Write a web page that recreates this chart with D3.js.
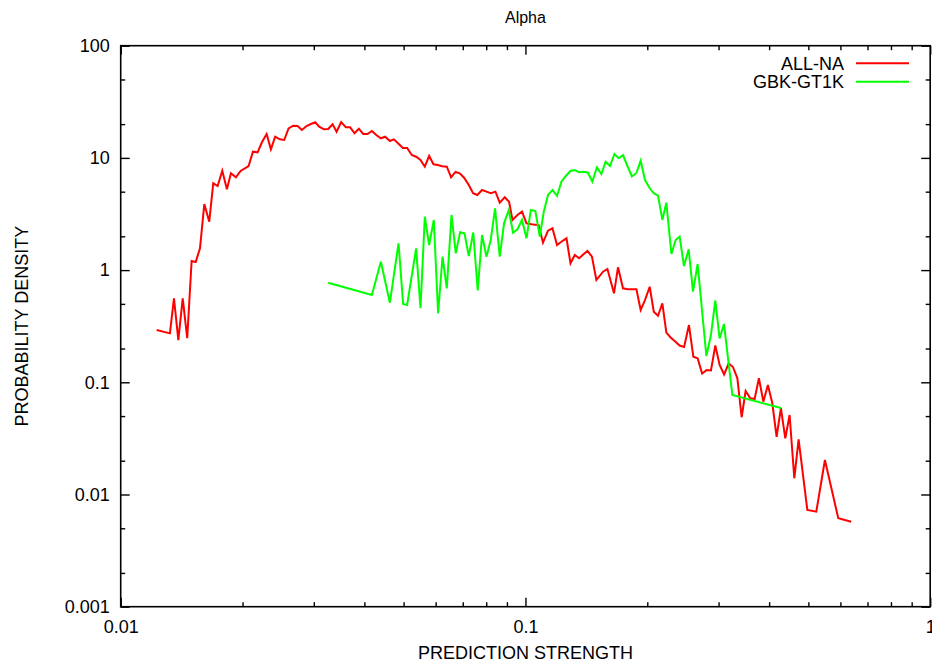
<!DOCTYPE html>
<html>
<head>
<meta charset="utf-8">
<script src="https://cdn.jsdelivr.net/npm/d3@7"></script>
<style>
  body { margin: 0; background: #fff; }
  text { font-family: "Liberation Sans", Arial, Helvetica, sans-serif; fill: #000; }
</style>
</head>
<body>
<script>
// chart data
var chartTitle = "Alpha";
var seriesNames = ["ALL-NA", "GBK-GT1K"];

var allnaStrength = [0.01227, 0.01323, 0.01354, 0.01388, 0.01423, 0.01460, 0.01497, 0.01532, 0.01570, 0.01609,
  0.01655, 0.01693, 0.01736, 0.01782, 0.01830, 0.01872, 0.01926, 0.01978, 0.02070, 0.02122,
  0.02179, 0.02233, 0.02294, 0.02350, 0.02408, 0.02473, 0.02535, 0.02599, 0.02668, 0.02735,
  0.02803, 0.02879, 0.02951, 0.03024, 0.03093, 0.03177, 0.03256, 0.03338, 0.03415, 0.03505,
  0.03600, 0.03689, 0.03782, 0.03876, 0.03972, 0.04073, 0.04174, 0.04287, 0.04393, 0.04502,
  0.04624, 0.04730, 0.04858, 0.04978, 0.05101, 0.05239, 0.05381, 0.05504, 0.05641, 0.05781,
  0.05927, 0.06074, 0.06224, 0.06393, 0.06551, 0.06717, 0.06883, 0.07052, 0.07244, 0.07423,
  0.07603, 0.07812, 0.08010, 0.08208, 0.08431, 0.08640, 0.08890, 0.09110, 0.09288, 0.09556,
  0.09806, 0.1006, 0.1035, 0.1057, 0.1078, 0.1105, 0.1137, 0.1166, 0.1197, 0.1229,
  0.1263, 0.1292, 0.1324, 0.1357, 0.1389, 0.1423, 0.1460, 0.1497, 0.1555, 0.1594,
  0.1655, 0.1693, 0.1742, 0.1789, 0.1833, 0.1880, 0.1926, 0.1974, 0.2028, 0.2075,
  0.2126, 0.2179, 0.2229, 0.2284, 0.2344, 0.2404, 0.2466, 0.2535, 0.2599, 0.2663,
  0.2732, 0.2804, 0.2873, 0.2945, 0.3018, 0.3096, 0.3177, 0.3256, 0.3339, 0.3421,
  0.3499, 0.3594, 0.3683, 0.3774, 0.3870, 0.3972, 0.4073, 0.4174, 0.4277, 0.4385,
  0.4494, 0.4616, 0.4730, 0.4971, 0.5231, 0.5494, 0.5928, 0.6381];

var allnaDensity = [0.292, 0.273, 0.561, 0.238, 0.561, 0.247, 1.205, 1.181, 1.564, 3.88,
  2.70, 5.94, 5.62, 7.69, 5.25, 7.29, 6.72, 7.64, 8.47, 11.36,
  11.22, 13.77, 16.33, 11.93, 15.45, 14.64, 14.44, 18.35, 19.36, 19.24,
  17.73, 19.24, 20.05, 20.76, 18.97, 17.99, 18.10, 19.93, 17.12, 20.89,
  18.74, 18.74, 16.57, 18.2, 16.33, 16.33, 17.37, 15.90, 14.95, 15.45,
  14.15, 14.64, 13.39, 12.25, 12.25, 10.61, 10.19, 9.58, 8.35, 10.40,
  8.77, 8.65, 8.42, 8.35, 6.72, 7.49, 7.29, 6.66, 5.73, 4.84,
  4.67, 5.18, 5.00, 4.84, 5.00, 3.99, 4.46, 4.07, 2.80, 3.10,
  3.32, 2.61, 2.56, 2.54, 2.52, 1.755, 2.245, 2.358, 1.674, 1.799,
  1.920, 1.150, 1.363, 1.274, 1.377, 1.480, 1.316, 0.816, 0.968, 1.023,
  0.621, 1.059, 0.688, 0.674, 0.674, 0.674, 0.441, 0.541, 0.711, 0.426,
  0.392, 0.506, 0.277, 0.2509, 0.2310, 0.2128, 0.2063, 0.324, 0.1691, 0.1637,
  0.1198, 0.1287, 0.1274, 0.2128, 0.1427, 0.1174, 0.1471, 0.1369, 0.1086, 0.0488,
  0.0836, 0.0720, 0.0710, 0.1086, 0.0672, 0.0946, 0.0650, 0.0327, 0.0587, 0.0317,
  0.0511, 0.01395, 0.0310, 0.00728, 0.00703, 0.0203, 0.00614, 0.00572];

var gbkStrength = [0.03256, 0.04174, 0.04393, 0.04624, 0.04858, 0.04987, 0.05101, 0.05369, 0.05504, 0.05641,
  0.05781, 0.05937, 0.06084, 0.06239, 0.06393, 0.06566, 0.06729, 0.06895, 0.07069, 0.07244,
  0.07431, 0.07623, 0.07812, 0.08010, 0.08208, 0.08412, 0.08640, 0.08855, 0.09095, 0.09320,
  0.09556, 0.09806, 0.1006, 0.1031, 0.1058, 0.1085, 0.1110, 0.1137, 0.1166, 0.1197,
  0.1227, 0.1258, 0.1292, 0.1324, 0.1357, 0.1393, 0.1427, 0.1463, 0.1502, 0.1540,
  0.1578, 0.1618, 0.1659, 0.1700, 0.1742, 0.1786, 0.1833, 0.1880, 0.1926, 0.1974,
  0.2028, 0.2075, 0.2126, 0.2179, 0.2229, 0.2294, 0.2350, 0.2404, 0.2464, 0.2531,
  0.2594, 0.2663, 0.2799, 0.2873, 0.2945, 0.3018, 0.3094, 0.3245, 0.4280];

var gbkDensity = [0.772, 0.600, 1.188, 0.512, 1.734, 0.499, 0.489, 1.564, 0.457, 2.99,
  1.674, 2.80, 0.412, 1.316, 0.688, 3.10, 1.411, 2.172, 2.128, 1.336,
  2.163, 0.658, 2.055, 1.316, 1.855, 3.554, 1.316, 2.61, 3.43, 2.154,
  2.31, 2.80, 1.920, 3.43, 3.36, 1.985, 3.32, 4.67, 5.18, 4.58,
  6.14, 6.90, 7.64, 7.80, 7.44, 7.53, 7.38, 6.14, 8.25, 7.19,
  9.25, 8.47, 10.83, 9.92, 10.61, 8.47, 6.83, 7.34, 9.44, 6.35,
  5.36, 4.84, 4.61, 2.80, 3.99, 1.392, 1.855, 1.985, 1.088, 1.532,
  0.642, 1.133, 0.1715, 0.264, 0.536, 0.2457, 0.331, 0.0770, 0.0590];

var xTickValues = [0.01, 0.1, 1];
var xTickLabels = ["0.01", "0.1", "1"];
var yTickValues = [0.001, 0.01, 0.1, 1, 10, 100];
var yTickLabels = ["0.001", "0.01", "0.1", "1", "10", "100"];

// set the dimensions and margins of the graph
var margin = {top: 45.7, right: 1.8, bottom: 56.3, left: 120.7},
    width = 932 - margin.left - margin.right,
    height = 663 - margin.top - margin.bottom;

var root = d3.select("body")
  .append("svg")
    .attr("width", 932)
    .attr("height", 663);

var svg = root.append("g")
    .attr("transform", "translate(" + margin.left + "," + margin.top + ")");

var x = d3.scaleLog().domain([0.01, 1]).range([0, width]);
var y = d3.scaleLog().domain([0.001, 100]).range([height, 0]);

// minor tick positions (2..9 on x, 2 and 5 on y)
var xMinor = [], yMinor = [];
xTickValues.slice(0, -1).forEach(function(d) {
  for (var k = 2; k < 10; k++) xMinor.push(d * k);
});
yTickValues.slice(0, -1).forEach(function(d) {
  [2, 5].forEach(function(k) { yMinor.push(d * k); });
});

function cleanAxis(g) {
  g.select(".domain").remove();
  g.selectAll(".tick line").attr("stroke", "#000").attr("stroke-width", 1.4);
  g.selectAll(".tick text").attr("font-size", 18);
}

// bottom / top
svg.append("g")
    .attr("transform", "translate(0," + height + ")")
    .call(d3.axisBottom(x).tickValues(xTickValues).tickSize(-9).tickPadding(14)
      .tickFormat(function(d, i) { return xTickLabels[i]; }))
    .call(cleanAxis);
svg.append("g")
    .attr("transform", "translate(0," + height + ")")
    .call(d3.axisBottom(x).tickValues(xMinor).tickSize(-4.5).tickFormat(""))
    .call(cleanAxis);
svg.append("g")
    .call(d3.axisTop(x).tickValues(xTickValues).tickSize(-9).tickFormat(""))
    .call(cleanAxis);
svg.append("g")
    .call(d3.axisTop(x).tickValues(xMinor).tickSize(-4.5).tickFormat(""))
    .call(cleanAxis);

// left / right
svg.append("g")
    .call(d3.axisLeft(y).tickValues(yTickValues).tickSize(-9).tickPadding(11)
      .tickFormat(function(d, i) { return yTickLabels[i]; }))
    .call(cleanAxis);
svg.append("g")
    .call(d3.axisLeft(y).tickValues(yMinor).tickSize(-4.5).tickFormat(""))
    .call(cleanAxis);
svg.append("g")
    .attr("transform", "translate(" + width + ",0)")
    .call(d3.axisRight(y).tickValues(yTickValues).tickSize(-9).tickFormat(""))
    .call(cleanAxis);
svg.append("g")
    .attr("transform", "translate(" + width + ",0)")
    .call(d3.axisRight(y).tickValues(yMinor).tickSize(-4.5).tickFormat(""))
    .call(cleanAxis);

// border
svg.append("rect")
    .attr("width", width)
    .attr("height", height)
    .attr("fill", "none")
    .attr("stroke", "#000")
    .attr("stroke-width", 1.6);

// the lines
var line = d3.line()
    .x(function(d) { return x(d[0]); })
    .y(function(d) { return y(d[1]); });

var allna = d3.zip(allnaStrength, allnaDensity);
var gbk = d3.zip(gbkStrength, gbkDensity);

svg.append("path")
    .datum(allna)
    .attr("fill", "none")
    .attr("stroke", "#ff0000")
    .attr("stroke-width", 2)
    .attr("stroke-linejoin", "miter")
    .attr("d", line);

svg.append("path")
    .datum(gbk)
    .attr("fill", "none")
    .attr("stroke", "#00ff00")
    .attr("stroke-width", 2)
    .attr("d", line);

// legend
var legendColors = ["#ff0000", "#00ff00"];
var legend = root.append("g");
seriesNames.forEach(function(name, i) {
  var ly = 63.3 + i * 18.4;
  legend.append("text")
      .attr("x", 844)
      .attr("y", ly)
      .attr("dy", "0.35em")
      .attr("text-anchor", "end")
      .attr("font-size", 18)
      .text(name);
  legend.append("line")
      .attr("x1", 856).attr("x2", 909)
      .attr("y1", ly).attr("y2", ly)
      .attr("stroke", legendColors[i])
      .attr("stroke-width", 2);
});

// title and axis labels
root.append("text")
    .attr("x", margin.left + width / 2)
    .attr("y", 17)
    .attr("dy", "0.35em")
    .attr("text-anchor", "middle")
    .attr("font-size", 16)
    .text(chartTitle);

root.append("text")
    .attr("x", margin.left + width / 2)
    .attr("y", 653)
    .attr("dy", "0.35em")
    .attr("text-anchor", "middle")
    .attr("font-size", 18)
    .text("PREDICTION STRENGTH");

root.append("text")
    .attr("transform", "translate(22," + (margin.top + height / 2) + ") rotate(-90)")
    .attr("dy", "0.35em")
    .attr("text-anchor", "middle")
    .attr("font-size", 18)
    .text("PROBABILITY DENSITY");
</script>
</body>
</html>
